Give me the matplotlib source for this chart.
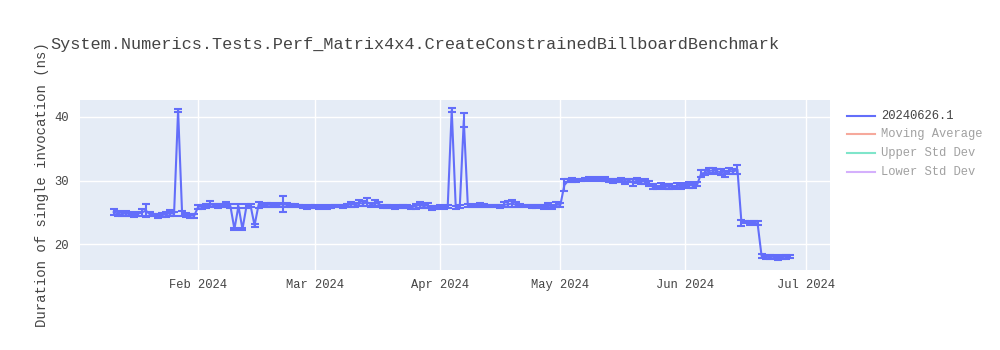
import matplotlib
matplotlib.use('Agg')
import matplotlib.pyplot as plt
import matplotlib.dates as mdates
from matplotlib.lines import Line2D
import pandas as pd

FONT = ['Liberation Mono', 'DejaVu Sans Mono']
plt.rcParams['font.family'] = FONT

title = "System.Numerics.Tests.Perf_Matrix4x4.CreateConstrainedBillboardBenchmark"
y_label = "Duration of single invocation (ns)"
series_name = "20240626.1"
legend_labels = ["20240626.1", "Moving Average", "Upper Std Dev", "Lower Std Dev"]
legend_colors = ["#636EFA", "#EF553B", "#00CC96", "#AB63FA"]
legend_visible = [True, False, False, False]

# daily values, per month (January starts on the 11th, June ends on the 27th)
jan_start, jan_vals = "2024-01-11", [25.1, 24.8, 24.7, 24.9, 24.7, 24.6, 24.8, 25.0, 25.3, 24.7, 24.6,
                                     24.5, 24.6, 24.7, 24.9, 24.8, 41.0, 24.8, 24.6, 24.5, 24.5]
jan_errs = [0.5, 0.4, 0.3, 0.4, 0.3, 0.3, 0.3, 0.6, 1.0, 0.3, 0.2, 0.3, 0.3, 0.4, 0.5, 0.3, 0.2, 0.4, 0.3, 0.3, 0.3]

feb_start, feb_vals = "2024-02-01", [25.9, 25.9, 26.0, 26.3, 26.1, 26.0, 26.1, 26.2, 26.0, 22.4, 26.0, 22.4,
                                     26.0, 26.1, 23.0, 26.2, 26.1, 26.2, 26.2, 26.1, 26.2, 26.3, 26.2, 26.1,
                                     26.1, 26.0, 25.9, 25.8, 25.9]
feb_errs = [0.3, 0.3, 0.3, 0.5, 0.3, 0.3, 0.3, 0.4, 0.3, 0.2, 0.3, 0.2, 0.3, 0.3, 0.2, 0.5, 0.3, 0.3, 0.3, 0.3,
            0.3, 1.3, 0.3, 0.2, 0.2, 0.2, 0.2, 0.2, 0.2]

mar_start, mar_vals = "2024-03-01", [25.9, 25.8, 25.9, 25.8, 25.9, 26.0, 26.0, 25.9, 26.1, 26.3, 26.2, 26.5,
                                     26.4, 26.6, 26.2, 26.5, 26.3, 25.9, 25.9, 25.9, 25.8, 25.9, 25.9, 25.9,
                                     25.8, 26.0, 26.2, 26.0, 26.1, 25.7, 25.8]
mar_errs = [0.2, 0.2, 0.2, 0.2, 0.2, 0.2, 0.2, 0.2, 0.3, 0.4, 0.3, 0.5, 0.4, 0.6, 0.3, 0.5, 0.4, 0.2, 0.2, 0.2,
            0.2, 0.2, 0.2, 0.2, 0.2, 0.4, 0.5, 0.3, 0.4, 0.3, 0.2]

apr_start, apr_vals = "2024-04-01", [25.9, 25.8, 25.9, 41.0, 25.8, 25.9, 39.4, 26.1, 26.0, 26.1, 26.2, 26.1,
                                     26.0, 26.0, 26.0, 25.9, 26.2, 26.3, 26.4, 26.2, 26.1, 26.0, 26.0, 25.9,
                                     25.9, 26.0, 25.9, 26.1, 25.9, 26.2]
apr_errs = [0.2, 0.2, 0.2, 0.3, 0.2, 0.2, 1.1, 0.3, 0.2, 0.3, 0.3, 0.2, 0.2, 0.2, 0.2, 0.2, 0.4, 0.5, 0.5, 0.4,
            0.3, 0.2, 0.2, 0.2, 0.2, 0.2, 0.3, 0.4, 0.3, 0.4]

may_start, may_vals = "2024-05-01", [26.2, 29.3, 30.0, 30.1, 30.0, 30.1, 30.2, 30.3, 30.2, 30.3, 30.2, 30.2,
                                     30.0, 29.9, 30.0, 30.1, 29.8, 30.0, 29.7, 30.0, 29.8, 29.9, 29.5, 29.0,
                                     28.9, 29.2, 29.0, 29.1, 28.9, 29.2, 29.1]
may_errs = [0.3, 0.9, 0.3, 0.3, 0.2, 0.2, 0.2, 0.2, 0.2, 0.2, 0.2, 0.3, 0.3, 0.3, 0.3, 0.3, 0.4, 0.3, 0.5, 0.4,
            0.3, 0.4, 0.4, 0.4, 0.3, 0.4, 0.3, 0.4, 0.3, 0.4, 0.4]

jun_start, jun_vals = "2024-06-01", [29.3, 29.3, 29.2, 29.4, 31.1, 31.2, 31.5, 31.6, 31.4, 31.3, 31.0, 31.5,
                                     31.4, 31.7, 23.4, 23.5, 23.4, 23.4, 23.3, 18.2, 18.1, 18.0, 18.1, 17.9,
                                     18.0, 18.1, 18.1]
jun_errs = [0.3, 0.4, 0.3, 0.3, 0.5, 0.4, 0.5, 0.4, 0.4, 0.5, 0.5, 0.4, 0.4, 0.7, 0.5, 0.2, 0.3, 0.2, 0.3, 0.3,
            0.3, 0.3, 0.3, 0.3, 0.3, 0.3, 0.2]

months = [(jan_start, jan_vals, jan_errs), (feb_start, feb_vals, feb_errs), (mar_start, mar_vals, mar_errs),
          (apr_start, apr_vals, apr_errs), (may_start, may_vals, may_errs), (jun_start, jun_vals, jun_errs)]
dates, vals, errs = [], [], []
for start, v, e in months:
    dates.extend(pd.date_range(start, periods=len(v), freq="D"))
    vals.extend(v)
    errs.extend(e)

x_ticks = ["2024-02-01", "2024-03-01", "2024-04-01", "2024-05-01", "2024-06-01", "2024-07-01"]
y_ticks = [20, 30, 40]

W, H = 1000, 350
fig = plt.figure(figsize=(W / 100, H / 100), dpi=100)
L, R, T, B = 80, 830, 100, 269.5
ax = fig.add_axes([L / W, 1 - B / H, (R - L) / W, (B - T) / H])
ax.set_facecolor("#E5ECF6")
for s in ax.spines.values():
    s.set_visible(False)

ax.errorbar(dates, vals, yerr=errs, color="#636EFA", lw=1.5, elinewidth=1.5,
            capsize=3.2, capthick=1.5, zorder=3)

ax.set_xlim(pd.Timestamp("2024-01-02 15:00"), pd.Timestamp("2024-07-07"))
ax.set_ylim(16.08, 42.6)
ax.set_xticks([pd.Timestamp(t) for t in x_ticks])
ax.xaxis.set_major_formatter(mdates.DateFormatter("%b %Y"))
ax.set_yticks(y_ticks)
ax.grid(True, color="white", lw=1.0, zorder=0)
ax.set_axisbelow(True)
ax.tick_params(length=0, labelsize=8.7, labelcolor="#444444")
ax.tick_params(axis="x", pad=7)
ax.tick_params(axis="y", pad=8)

fig.text(50 / W, 1 - 45 / H, title, fontsize=12.2, color="#444444", va="center", ha="left")
fig.text(42 / W, 1 - (T + B) / 2 / H, y_label, fontsize=10.1, color="#444444",
         rotation=90, va="center", ha="center")

# legend
for i, (lab, col, vis) in enumerate(zip(legend_labels, legend_colors, legend_visible)):
    yy = 1 - (115.5 + i * 18.8) / H
    a = 1.0 if vis else 0.5
    fig.add_artist(Line2D([847 / W, 875 / W], [yy, yy], color=col, lw=1.5, alpha=a,
                          transform=fig.transFigure))
    fig.text(881 / W, yy, lab, fontsize=8.7, color="#444444", alpha=a, va="center", ha="left")

fig.savefig("out.png", dpi=100, facecolor="white")
